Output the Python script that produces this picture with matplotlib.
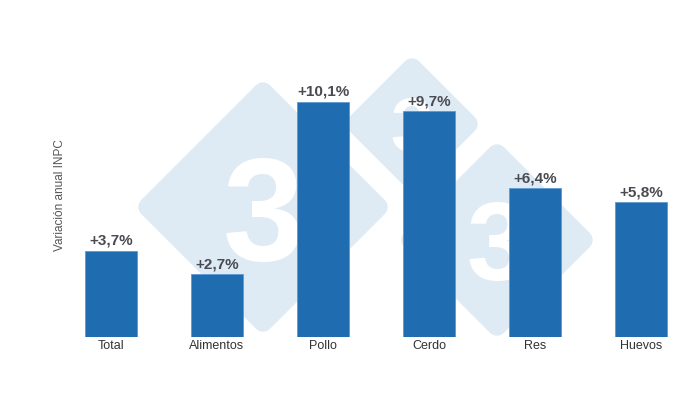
import matplotlib
matplotlib.use('Agg')
import matplotlib.pyplot as plt
from matplotlib.patches import Polygon

# datos
categorias = ['Total', 'Alimentos', 'Pollo', 'Cerdo', 'Res', 'Huevos']
variacion = [3.7, 2.7, 10.1, 9.7, 6.4, 5.8]
etiquetas = ['+3,7%', '+2,7%', '+10,1%', '+9,7%', '+6,4%', '+5,8%']

plt.rcParams['font.family'] = ['Liberation Sans', 'DejaVu Sans']

W, H = 700, 400
fig = plt.figure(figsize=(7, 4), dpi=100)
ax = fig.add_axes([58 / W, 63 / H, 636 / W, 317 / H])
ax.set_facecolor('none')

# marca de agua (rombos con "3")
for cx, cy, r, fs in [(412, 124, 56, 55), (263, 207, 115, 105), (497, 240, 86, 80)]:
    pts = [((cx) / W, (H - cy + r) / H), ((cx + r) / W, (H - cy) / H),
           ((cx) / W, (H - cy - r) / H), ((cx - r) / W, (H - cy) / H)]
    rombo = Polygon(pts, closed=True, transform=fig.transFigure, facecolor='#dfebf4',
                    edgecolor='#dfebf4', linewidth=14, joinstyle='round', zorder=-2)
    fig.add_artist(rombo)
    fig.text(cx / W, (H - cy - 0.14 * fs) / H, '3', color='white', fontsize=fs,
             fontweight='bold', ha='center', va='center', zorder=-1)

x = range(len(categorias))
barras = ax.bar(x, variacion, width=0.49, color='#1f6cb0', edgecolor='#5d98d0', linewidth=0.6)

for xi, v, t in zip(x, variacion, etiquetas):
    ax.text(xi, v + 0.12, t, ha='center', va='bottom', fontsize=11, fontweight='bold',
            color='#4a4a52')

ax.set_xlim(-0.5, len(categorias) - 0.5)
ax.set_ylim(0, 13.6)
ax.set_xticks(list(x))
ax.set_xticklabels(categorias, fontsize=9, color='#333333')
ax.tick_params(axis='x', length=0, pad=2)
ax.set_yticks([])
for s in ax.spines.values():
    s.set_visible(False)

fig.text(60 / W, (H - 195) / H, 'Variación anual INPC', rotation=90,
         ha='center', va='center', fontsize=8.5, color='#555555')

fig.savefig('out.png', dpi=100)
